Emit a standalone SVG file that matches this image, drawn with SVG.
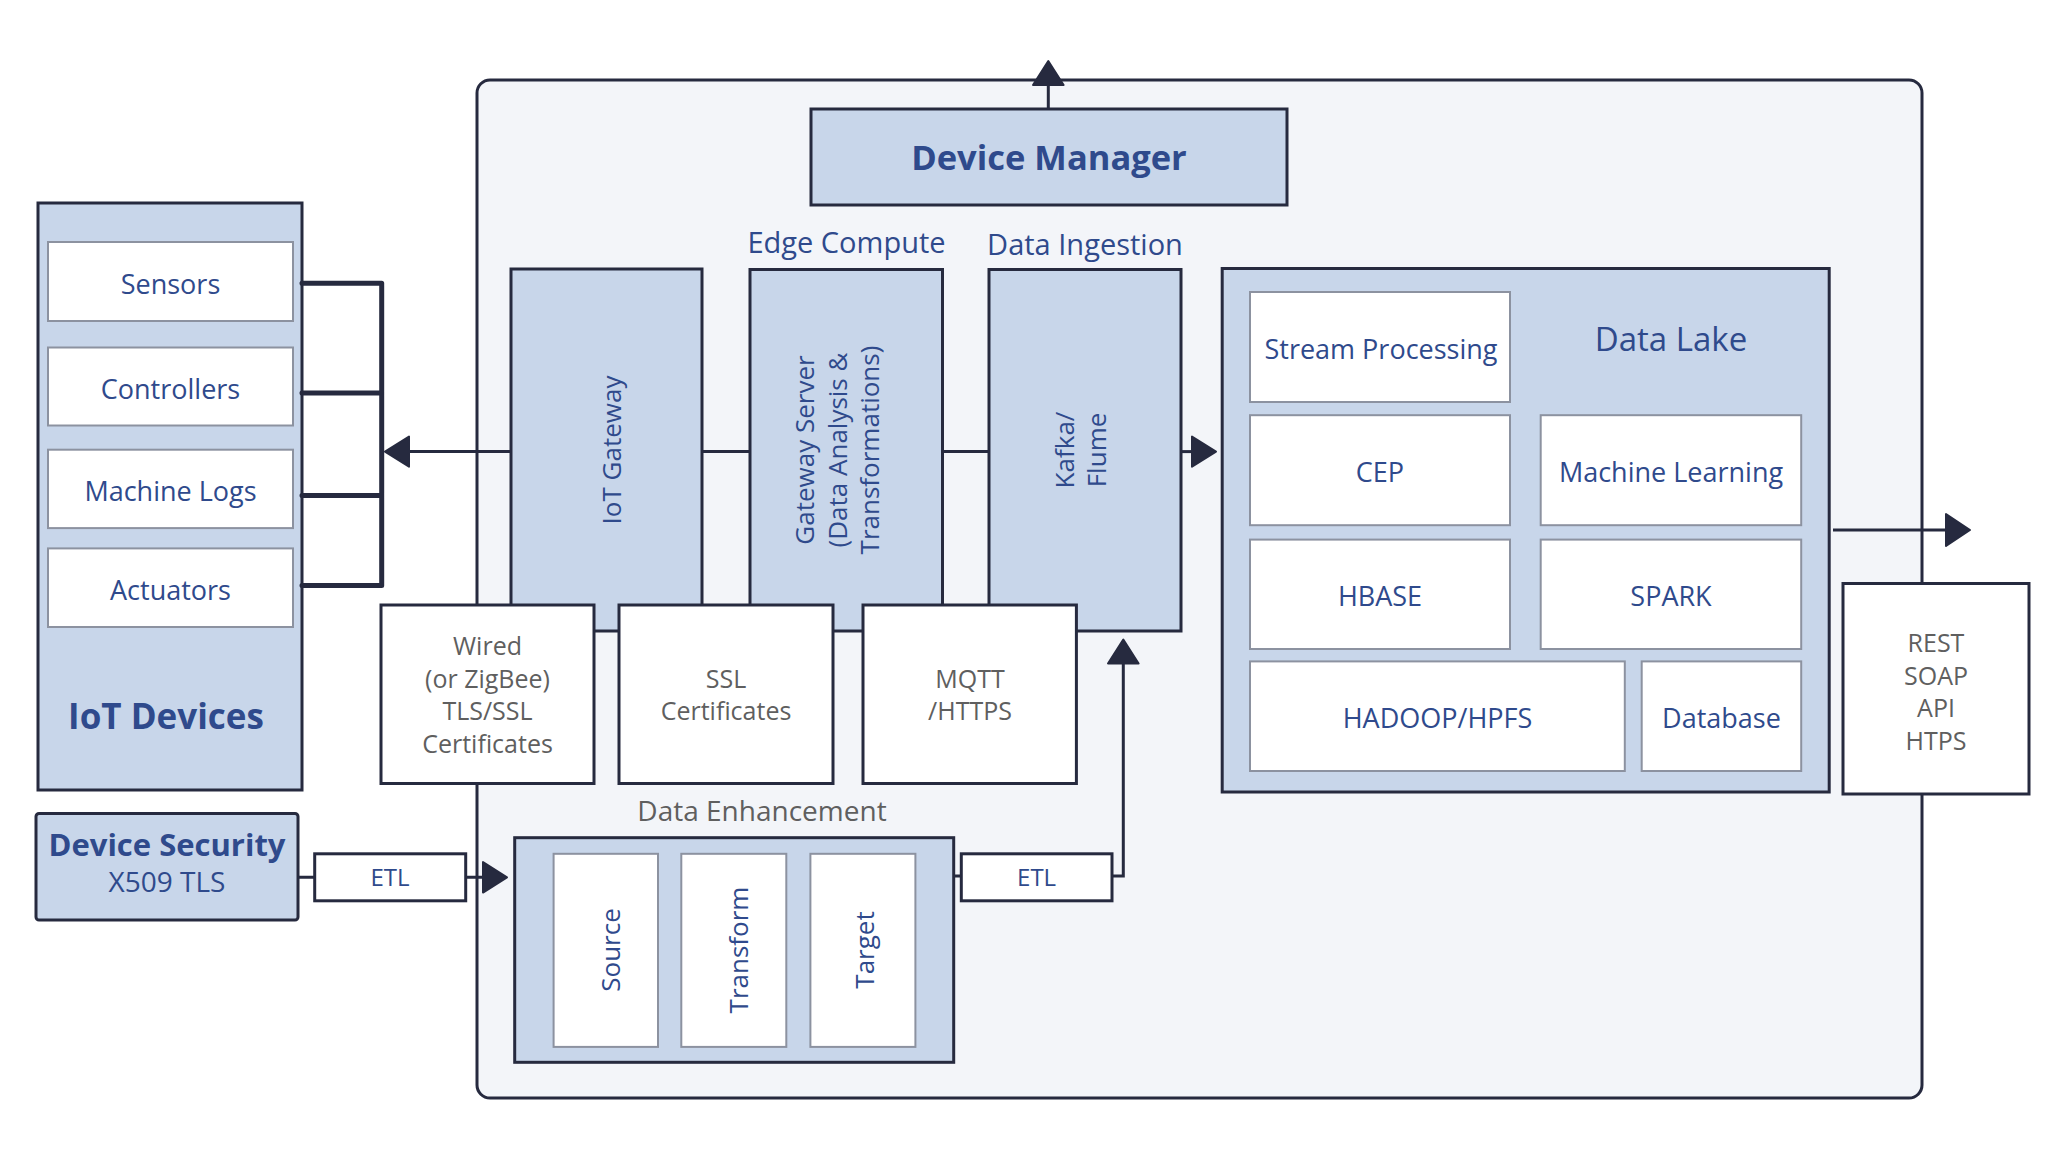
<svg xmlns="http://www.w3.org/2000/svg" width="2051" height="1153" viewBox="0 0 2051 1153">
<defs>
<style>
.blue{fill:#c8d6ea;stroke:#262a3f;stroke-width:3}
.white{fill:#ffffff;stroke:#8c92a0;stroke-width:2}
.wbox{fill:#ffffff;stroke:#262a3f;stroke-width:3}
.outer{fill:#f3f5f9;stroke:#262a3f;stroke-width:3}
text{font-family:"Open Sans","Noto Sans","Liberation Sans",sans-serif}
.t{fill:#2f4a8c;font-size:27px;text-anchor:middle}
.tr{fill:#2f4a8c;font-size:26px;text-anchor:middle}
.g{fill:#5f5f5f;font-size:25px;text-anchor:middle}
.h{fill:#2f4a8c;font-size:29px;text-anchor:middle}
.b{fill:#2f4a8c;font-weight:bold;text-anchor:middle}
.conn{fill:none;stroke:#262a3f;stroke-width:3}
.thick{fill:none;stroke:#262a3f;stroke-width:5;stroke-linejoin:round;stroke-linecap:round}
.head{fill:#262a3f;stroke:#262a3f;stroke-width:2;stroke-linejoin:round}
</style>
</defs>
<rect width="2051" height="1153" fill="#ffffff"/>

<g id="platform">
<rect class="outer" x="477" y="80" width="1445" height="1018" rx="13"/>
</g>

<g id="device-manager">
<rect class="blue" x="811" y="109" width="476" height="96"/>
<text class="b" x="1049" y="169.5" style="font-size:34.5px">Device Manager</text>
</g>

<g id="iot-devices">
<rect class="blue" x="38" y="203" width="264" height="587"/>
<rect class="white" x="48" y="242" width="245" height="79"/>
<text class="t" x="170.5" y="293.5">Sensors</text>
<rect class="white" x="48" y="347.5" width="245" height="78"/>
<text class="t" x="170.5" y="398.5">Controllers</text>
<rect class="white" x="48" y="449.7" width="245" height="78.4"/>
<text class="t" x="170.5" y="501">Machine Logs</text>
<rect class="white" x="48" y="548.4" width="245" height="78.6"/>
<text class="t" x="170.5" y="600">Actuators</text>
<text class="b" x="166" y="729" style="font-size:35px">IoT Devices</text>
</g>

<g id="device-security">
<rect class="blue" x="36" y="813.5" width="262" height="106.5" rx="3"/>
<text class="b" x="167" y="856" style="font-size:31px">Device Security</text>
<text class="t" x="167" y="891.5" style="font-size:28px">X509 TLS</text>
</g>

<g id="etl-1">
<rect class="wbox" x="314.7" y="853.8" width="151" height="47"/>
<text class="t" x="390" y="885.5" style="font-size:24px">ETL</text>
</g>

<g id="iot-gateway">
<rect class="blue" x="511" y="269" width="191" height="362"/>
<text class="tr" transform="translate(621,450) rotate(-90)">IoT Gateway</text>
</g>

<g id="gateway-server">
<text class="h" x="846.5" y="252.6">Edge Compute</text>
<rect class="blue" x="750" y="269.5" width="192.5" height="361.5"/>
<text class="tr" transform="translate(814,450) rotate(-90)">Gateway Server</text>
<text class="tr" transform="translate(846.5,450) rotate(-90)">(Data Analysis &amp;</text>
<text class="tr" transform="translate(879,450) rotate(-90)">Transformations)</text>
</g>

<g id="kafka">
<text class="h" x="1085" y="254.5">Data Ingestion</text>
<rect class="blue" x="989" y="269.5" width="192" height="361.5"/>
<text class="tr" transform="translate(1074,450) rotate(-90)">Kafka/</text>
<text class="tr" transform="translate(1106,450) rotate(-90)">Flume</text>
</g>

<g id="wired">
<rect class="wbox" x="381" y="605" width="213" height="178.5"/>
<text class="g" x="487.5" y="654.6">Wired</text>
<text class="g" x="487.5" y="687.7">(or ZigBee)</text>
<text class="g" x="487.5" y="720">TLS/SSL</text>
<text class="g" x="487.5" y="752.7">Certificates</text>
</g>

<g id="ssl">
<rect class="wbox" x="619" y="605" width="214" height="178.5"/>
<text class="g" x="726" y="687.7">SSL</text>
<text class="g" x="726" y="719.5">Certificates</text>
</g>

<g id="mqtt">
<rect class="wbox" x="863" y="605" width="213.4" height="178.5"/>
<text class="g" x="970" y="688">MQTT</text>
<text class="g" x="970" y="719.5">/HTTPS</text>
</g>

<g id="data-enhancement">
<text class="g" x="762" y="821" style="font-size:28px">Data Enhancement</text>
<rect class="blue" x="514.7" y="837.7" width="439" height="224.6"/>
<rect class="white" x="553.6" y="853.8" width="104.4" height="193.1"/>
<text class="tr" transform="translate(620,950) rotate(-90)">Source</text>
<rect class="white" x="681.3" y="853.8" width="105" height="193.1"/>
<text class="tr" transform="translate(748,950) rotate(-90)">Transform</text>
<rect class="white" x="810.4" y="853.8" width="105" height="193.1"/>
<text class="tr" transform="translate(874,950) rotate(-90)">Target</text>
</g>

<g id="etl-2">
<rect class="wbox" x="961.3" y="853.8" width="150.7" height="47"/>
<text class="t" x="1036.6" y="885.5" style="font-size:24px">ETL</text>
</g>

<g id="data-lake">
<rect class="blue" x="1222.2" y="268.5" width="607" height="523.5"/>
<text class="t" x="1671" y="351" style="font-size:33px">Data Lake</text>
<rect class="white" x="1250" y="292" width="260" height="110"/>
<text class="t" x="1381" y="358.8">Stream Processing</text>
<rect class="white" x="1250" y="415.2" width="260" height="110"/>
<text class="t" x="1380" y="482">CEP</text>
<rect class="white" x="1540.7" y="415.2" width="260.5" height="110"/>
<text class="t" x="1671" y="482">Machine Learning</text>
<rect class="white" x="1250" y="539.6" width="260" height="109.4"/>
<text class="t" x="1380" y="605.5">HBASE</text>
<rect class="white" x="1540.7" y="539.6" width="260.5" height="109.4"/>
<text class="t" x="1671" y="605.5">SPARK</text>
<rect class="white" x="1250" y="661.4" width="374.8" height="109.6"/>
<text class="t" x="1437.5" y="727.8">HADOOP/HPFS</text>
<rect class="white" x="1641.7" y="661.4" width="159.5" height="109.6"/>
<text class="t" x="1721.5" y="727.8">Database</text>
</g>

<g id="rest">
<rect class="wbox" x="1843" y="583.5" width="186" height="210.5"/>
<text class="g" x="1936" y="652">REST</text>
<text class="g" x="1936" y="684.5">SOAP</text>
<text class="g" x="1936" y="717">API</text>
<text class="g" x="1936" y="749.5">HTPS</text>
</g>

<g id="connectors">
<path class="thick" d="M302,283.3 H381.7 V585.4 H302 M302,393 H381.7 M302,495.6 H381.7"/>
<path class="conn" d="M511,451.6 H405"/>
<polygon class="head" points="385,451.6 409,436.5 409,466.7"/>
<path class="conn" d="M702,451.6 H750 M942.5,451.6 H989"/>
<path class="conn" d="M1181,451.6 H1195"/>
<polygon class="head" points="1216,451.6 1192,436.5 1192,466.7"/>
<path class="conn" d="M1048.3,109 V80"/>
<polygon class="head" points="1048.3,61 1033,85 1063.6,85"/>
<path class="conn" d="M298,877.3 H314.7 M465.7,877.3 H486"/>
<polygon class="head" points="507,877.3 483,862 483,892.6"/>
<path class="conn" d="M953.7,876 H961.3 M1112,876 H1123.3 V660"/>
<polygon class="head" points="1123.3,639.5 1108,663.5 1138.6,663.5"/>
<path class="conn" d="M1833,530 H1950"/>
<polygon class="head" points="1970,530 1946,514 1946,546"/>
</g>
</svg>
